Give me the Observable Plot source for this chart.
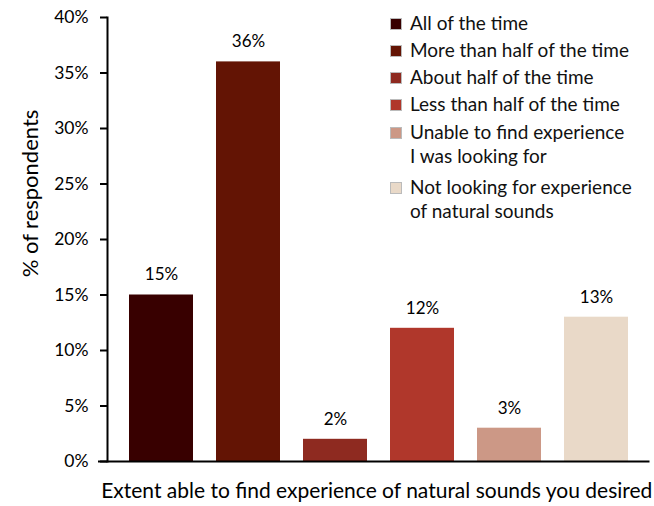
<!DOCTYPE html>
<html>
<head>
<meta charset="utf-8">
<script src="https://cdn.jsdelivr.net/npm/d3@7"></script>
<script src="https://cdn.jsdelivr.net/npm/@observablehq/plot@0.6"></script>
<style>
  html, body { margin: 0; padding: 0; background: #fff; }
  #wrap { position: relative; width: 654px; height: 506px; font-family: Lato, "Open Sans", sans-serif; }
  #legend { position: absolute; left: 390px; top: 11px; font-size: 19px; color: #111; line-height: 24px; }
  .item { display: flex; align-items: flex-start; margin-bottom: 3px; }
  .item.multi { margin-bottom: 7px; margin-top: 4px; }
  .sw { width: 10px; height: 10px; margin-top: 7px; margin-right: 8px; border: 1px solid #bbb; flex: none; }
</style>
</head>
<body>
<div id="wrap"></div>
<script>
const categories = [
  "All of the time",
  "More than half of the time",
  "About half of the time",
  "Less than half of the time",
  "Unable to find experience\nI was looking for",
  "Not looking for experience\nof natural sounds"
];
const values = [15, 36, 2, 12, 3, 13];
const colors = ["#380000", "#631404", "#8e2a20", "#b0372b", "#cc9886", "#e9d9c8"];
const yTicks = [0, 5, 10, 15, 20, 25, 30, 35, 40];
const yTitle = "% of respondents";
const xTitle = "Extent able to find experience of natural sounds you desired";

const data = categories.map((c, i) => ({category: c, value: values[i], color: colors[i]}));

const chart = Plot.plot({
  width: 654,
  height: 506,
  marginLeft: 107,
  marginRight: 4.5,
  marginTop: 17,
  marginBottom: 45,
  style: {fontFamily: "Lato, 'Open Sans', sans-serif", fontSize: "18px", color: "#000", background: "#fff"},
  x: {domain: categories, paddingInner: 0.26, paddingOuter: 0.23, axis: null},
  y: {domain: [0, 40], axis: null},
  marks: [
    Plot.barY(data, {x: "category", y: "value", fill: "color"}),
    Plot.text(data, {x: "category", y: "value", text: d => d.value + "%", dy: -20, fontSize: 17, fill: "#000"}),
    Plot.axisY({ticks: yTicks, tickSize: 7, tickPadding: 12, tickFormat: d => d + "%", strokeWidth: 2, fontSize: 17.5, label: null, fill: "#000"}),
    Plot.frame({anchor: "left", strokeWidth: 2, stroke: "#000"}),
    Plot.ruleY([0], {strokeWidth: 2, stroke: "#000", insetLeft: -9}),
    Plot.text([yTitle], {frameAnchor: "left", textAnchor: "middle", text: d => d, rotate: -90, dx: -77, dy: -46, fontSize: 22, fill: "#000"}),
    Plot.text([xTitle], {frameAnchor: "bottom", text: d => d, dy: 36, dx: -2, fontSize: 21, fill: "#000"})
  ]
});

const wrap = document.getElementById("wrap");
wrap.appendChild(chart);

const legend = document.createElement("div");
legend.id = "legend";
data.forEach(d => {
  const item = document.createElement("div");
  const lines = d.category.split("\n");
  item.className = lines.length > 1 ? "item multi" : "item";
  const sw = document.createElement("span");
  sw.className = "sw";
  sw.style.background = d.color;
  const lab = document.createElement("span");
  lab.innerHTML = lines.join("<br>");
  item.appendChild(sw);
  item.appendChild(lab);
  legend.appendChild(item);
});
wrap.appendChild(legend);
</script>
</body>
</html>
